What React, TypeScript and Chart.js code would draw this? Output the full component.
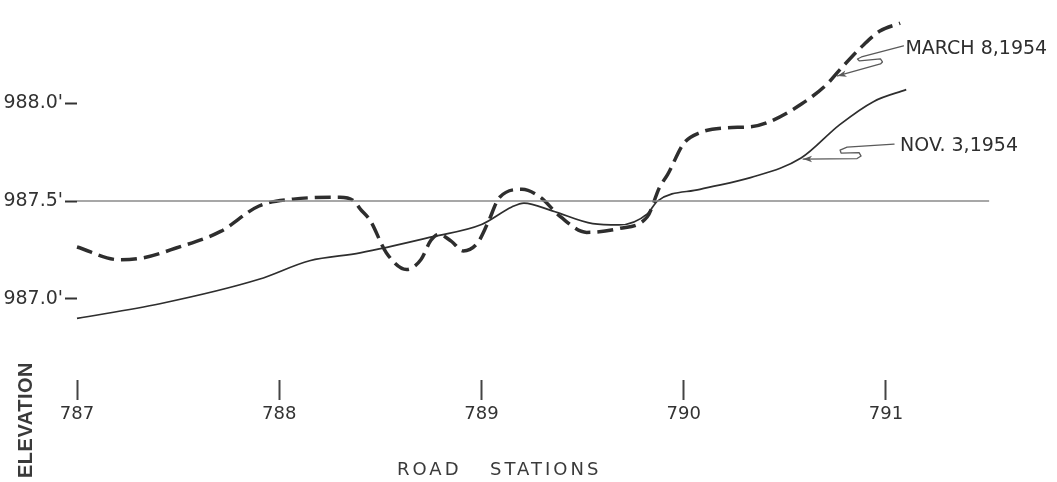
import React, { useEffect, useRef } from "react";
import { Chart, registerables } from "chart.js";

Chart.register(...registerables);

// ---- data ----
const marchStations = [
  787.0, 787.21, 787.33, 787.49, 787.71, 787.9, 788.07, 788.3, 788.37, 788.4, 788.45,
  788.53, 788.63, 788.7, 788.75, 788.79, 788.85, 788.91, 788.98, 789.03, 789.09,
  789.2, 789.29, 789.39, 789.52, 789.68, 789.82, 789.88, 789.92, 790.0, 790.08,
  790.21, 790.33, 790.41, 790.58, 790.71, 790.77, 790.89, 790.97, 791.07,
];
const marchElevations = [
  987.265, 987.2, 987.21, 987.26, 987.345, 987.475, 987.51, 987.52, 987.5, 987.46, 987.4,
  987.235, 987.15, 987.2, 987.3, 987.33, 987.295, 987.245, 987.285, 987.385, 987.52,
  987.56, 987.52, 987.42, 987.34, 987.36, 987.42, 987.57, 987.635, 987.795, 987.85,
  987.875, 987.88, 987.9, 987.995, 988.1, 988.17, 988.3, 988.37, 988.41,
];

const novStations = [
  787.0, 787.41, 787.9, 788.15, 788.4, 788.76, 789.0, 789.15, 789.21, 789.35, 789.55,
  789.68, 789.82, 789.87, 790.08, 790.33, 790.58, 790.77, 790.94, 791.1,
];
const novElevations = [
  986.9, 986.975, 987.1, 987.195, 987.235, 987.318, 987.38, 987.47, 987.49, 987.45, 987.385,
  987.378, 987.435, 987.5, 987.56, 987.62, 987.72, 987.89, 988.01, 988.07,
];

const referenceStations = [787.0, 791.51];
const referenceElevations = [987.5, 987.5];

const stationTicks = [787, 788, 789, 790, 791];
const elevationTicks = [987.0, 987.5, 988.0];

const marchLabel = "MARCH 8,1954";
const novLabel = "NOV. 3,1954";
const marchArrowTip = { x: 790.76, y: 988.14 };
const novArrowTip = { x: 790.59, y: 987.715 };

const toPoints = (xs: number[], ys: number[]) => xs.map((x, i) => ({ x, y: ys[i] }));

const INK = "#2e2e2e";

function drawArrowHead(ctx: CanvasRenderingContext2D, tx: number, ty: number, fx: number, fy: number) {
  const a = Math.atan2(ty - fy, tx - fx);
  const len = 9;
  const w = 3.2;
  const bx = tx - Math.cos(a) * len;
  const by = ty - Math.sin(a) * len;
  ctx.beginPath();
  ctx.moveTo(tx, ty);
  ctx.lineTo(bx - Math.sin(a) * w, by + Math.cos(a) * w);
  ctx.lineTo(bx + Math.cos(a) * 2.5, by + Math.sin(a) * 2.5);
  ctx.lineTo(bx + Math.sin(a) * w, by - Math.cos(a) * w);
  ctx.closePath();
  ctx.fill();
}

const annotationPlugin = {
  id: "annotations",
  beforeDraw(chart: any) {
    const ctx = chart.ctx;
    ctx.save();
    ctx.fillStyle = "#ffffff";
    ctx.fillRect(0, 0, chart.width, chart.height);
    ctx.restore();
  },
  afterDraw(chart: any) {
    const ctx: CanvasRenderingContext2D = chart.ctx;
    const xs = chart.scales.x;
    const ys = chart.scales.y;
    ctx.save();

    const leader = (tip: { x: number; y: number }, pts: number[][], label: string, tdx: number, tdy: number) => {
      const tx = xs.getPixelForValue(tip.x);
      const ty = ys.getPixelForValue(tip.y);
      ctx.strokeStyle = "#5a5a5a";
      ctx.fillStyle = "#5a5a5a";
      ctx.lineWidth = 1.3;
      ctx.lineJoin = "round";
      ctx.lineCap = "round";
      ctx.beginPath();
      ctx.moveTo(tx + pts[0][0], ty + pts[0][1]);
      for (let i = 1; i < pts.length; i++) ctx.lineTo(tx + pts[i][0], ty + pts[i][1]);
      ctx.lineTo(tx, ty);
      ctx.stroke();
      const last = pts[pts.length - 1];
      drawArrowHead(ctx, tx, ty, tx + last[0], ty + last[1]);
      ctx.fillStyle = INK;
      ctx.font = "19px 'DejaVu Sans'";
      ctx.textAlign = "left";
      ctx.textBaseline = "middle";
      ctx.fillText(label, tx + tdx, ty + tdy);
    };

    leader(
      marchArrowTip,
      [
        [66, -30],
        [24, -19],
        [20, -17],
        [22, -15],
        [43, -17],
        [45, -14],
        [43, -12],
      ],
      marchLabel,
      68,
      -27
    );
    leader(
      novArrowTip,
      [
        [91, -15],
        [44, -12],
        [37, -9],
        [38, -6],
        [56, -6.5],
        [58, -3],
        [54, -0.5],
      ],
      novLabel,
      97,
      -13
    );

    // axis titles
    ctx.fillStyle = "#3a3a3a";
    ctx.font = "18px 'DejaVu Sans'";
    ctx.textAlign = "left";
    ctx.textBaseline = "middle";
    (ctx as any).letterSpacing = "3px";
    ctx.fillText("ROAD", 397, 470);
    ctx.fillText("STATIONS", 490, 470);

    (ctx as any).letterSpacing = "0.5px";
    ctx.font = "bold 20px 'Liberation Sans'";
    ctx.translate(26, 362);
    ctx.rotate(-Math.PI / 2);
    ctx.textAlign = "right";
    ctx.fillText("ELEVATION", 0, 0);
    ctx.restore();
  },
};

export default function App() {
  const ref = useRef<HTMLCanvasElement>(null);

  useEffect(() => {
    if (!ref.current) return;
    Chart.defaults.font.family = "'DejaVu Sans'";
    const chart = new Chart(ref.current, {
      type: "line",
      data: {
        datasets: [
          {
            label: "987.5 reference",
            data: toPoints(referenceStations, referenceElevations),
            borderColor: "#8a8a8a",
            borderWidth: 1.5,
            pointRadius: 0,
            tension: 0,
          },
          {
            label: marchLabel,
            data: toPoints(marchStations, marchElevations),
            borderColor: INK,
            borderWidth: 3.5,
            borderDash: [16, 7],
            borderCapStyle: "butt",
            pointRadius: 0,
            cubicInterpolationMode: "monotone",
            clip: 10,
          },
          {
            label: novLabel,
            data: toPoints(novStations, novElevations),
            borderColor: INK,
            borderWidth: 1.7,
            pointRadius: 0,
            cubicInterpolationMode: "monotone",
            clip: 10,
          },
        ],
      },
      options: {
        animation: false,
        responsive: false,
        devicePixelRatio: 1,
        layout: { padding: { top: 5, right: 57, left: 0, bottom: 0 } },
        plugins: {
          legend: { display: false },
          tooltip: { enabled: false },
          title: { display: false },
        },
        scales: {
          x: {
            type: "linear",
            min: 787,
            max: 791.5637,
            afterBuildTicks: (s: any) => {
              s.ticks = stationTicks.map((v) => ({ value: v }));
            },
            afterFit: (s: any) => {
              s.height = 102;
            },
            grid: {
              display: true,
              drawOnChartArea: false,
              drawTicks: true,
              tickLength: 20,
              tickWidth: 2,
              tickColor: "#444",
            },
            border: { display: false },
            ticks: {
              autoSkip: false,
              maxRotation: 0,
              padding: 4,
              color: "#333",
              font: { family: "'DejaVu Sans'", size: 18 },
              callback: (v: any) => String(v),
            },
          },
          y: {
            type: "linear",
            min: 986.585,
            max: 988.46,
            afterBuildTicks: (s: any) => {
              s.ticks = elevationTicks.map((v) => ({ value: v }));
            },
            afterFit: (s: any) => {
              s.width = 77;
            },
            grid: {
              display: true,
              drawOnChartArea: false,
              drawTicks: true,
              tickLength: 12,
              tickWidth: 2,
              tickColor: "#333",
            },
            border: { display: false },
            ticks: {
              autoSkip: false,
              padding: 2,
              color: "#333",
              font: { family: "'DejaVu Sans'", size: 19 },
              callback: (v: any) => Number(v).toFixed(1) + "'",
            },
          },
        },
      },
      plugins: [annotationPlugin],
    } as any);
    return () => chart.destroy();
  }, []);

  return (
    <div style={{ position: "fixed", left: 0, top: 0, width: 1057, height: 482, background: "#fff" }}>
      <canvas ref={ref} width={1057} height={482} style={{ display: "block", width: 1057, height: 482 }} />
    </div>
  );
}
